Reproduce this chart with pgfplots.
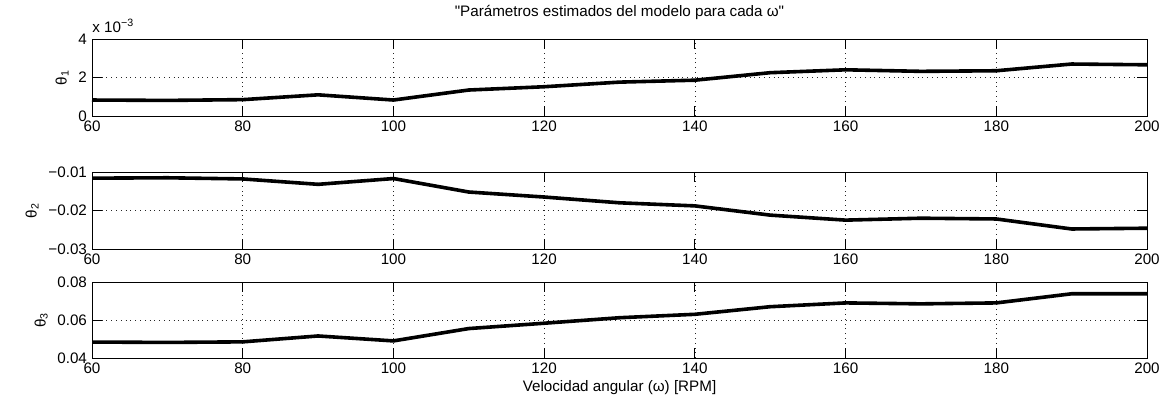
\documentclass[border=0pt]{standalone}
\usepackage{pgfplots}
\pgfplotsset{compat=1.18}
\usepackage{fontspec}
\setmainfont{Liberation Sans}
\newfontfamily\nomap[Ligatures=ResetAll]{Liberation Sans}

\newcommand\sz{\fontsize{7.6}{9}\selectfont}

\pgfplotsset{
  mat/.style={
    scale only axis, width=527.5pt, height=38.5pt,
    anchor=north west,
    xmin=60, xmax=200, xtick={60,80,...,200},
    scaled y ticks=false,
    grid=major,
    major grid style={black!85, line width=0.3pt, dash pattern=on 0.4pt off 2pt},
    axis line style={line width=0.5pt},
    tick style={black, line width=0.5pt},
    major tick length=5pt, tick align=inside,
    xtick pos=both, ytick pos=both,
    ticklabel style={font=\sz},
    /pgf/number format/assume math mode=true,
    label style={font=\sz},
    xticklabel style={yshift=1.3pt},
    yticklabel style={xshift=1pt},
    ylabel style={yshift=-2pt},
  },
  thline/.style={black, line width=1.8pt, line join=round, no marks},
}

\begin{document}
\begin{tikzpicture}
\path[use as bounding box] (0,0) rectangle (585pt,-203.5pt);

% theta_1 (in units of 1e-3)
\begin{axis}[mat, at={(46pt,-19.5pt)}, clip=false,
  ymin=0, ymax=4, ytick={0,2,4},
  ylabel={θ\textsubscript{1}},
  title={{\nomap"}Parámetros estimados del modelo para cada ω{\nomap"}},
  title style={font=\sz, yshift=0pt}]
\addplot[thline] coordinates {
 (60,0.83) (70,0.81) (80,0.85) (90,1.10) (100,0.83) (110,1.35) (120,1.52)
 (130,1.76) (140,1.86) (150,2.25) (160,2.40) (170,2.32) (180,2.35)
 (190,2.70) (200,2.66)};
\node[anchor=south west, font=\sz, inner sep=0pt, yshift=3pt] at (rel axis cs:0,1) {x 10\textsuperscript{−3}};
\end{axis}

% theta_2
\begin{axis}[mat, at={(46pt,-86pt)},
  ymin=-0.03, ymax=-0.01, ytick={-0.03,-0.02,-0.01},
  yticklabels={−0.03,−0.02,−0.01},
  ylabel={θ\textsubscript{2}}]
\addplot[thline] coordinates {
 (60,-0.0116) (70,-0.0115) (80,-0.0118) (90,-0.0132) (100,-0.0117)
 (110,-0.0152) (120,-0.0165) (130,-0.0180) (140,-0.0188) (150,-0.0212)
 (160,-0.0225) (170,-0.0220) (180,-0.0222) (190,-0.0248) (200,-0.0246)};
\end{axis}

% theta_3
\begin{axis}[mat, at={(46pt,-141pt)}, height=38pt,
  ymin=0.04, ymax=0.08, ytick={0.04,0.06,0.08},
  yticklabels={0.04,0.06,0.08},
  ylabel={θ\textsubscript{3}},
  xlabel={Velocidad angular (ω) [RPM]},
  xlabel style={yshift=3pt}]
\addplot[thline] coordinates {
 (60,0.0484) (70,0.0482) (80,0.0485) (90,0.0516) (100,0.0490)
 (110,0.0555) (120,0.0583) (130,0.0612) (140,0.0630) (150,0.0670)
 (160,0.0690) (170,0.0685) (180,0.0690) (190,0.0738) (200,0.0738)};
\end{axis}
\end{tikzpicture}
\end{document}
